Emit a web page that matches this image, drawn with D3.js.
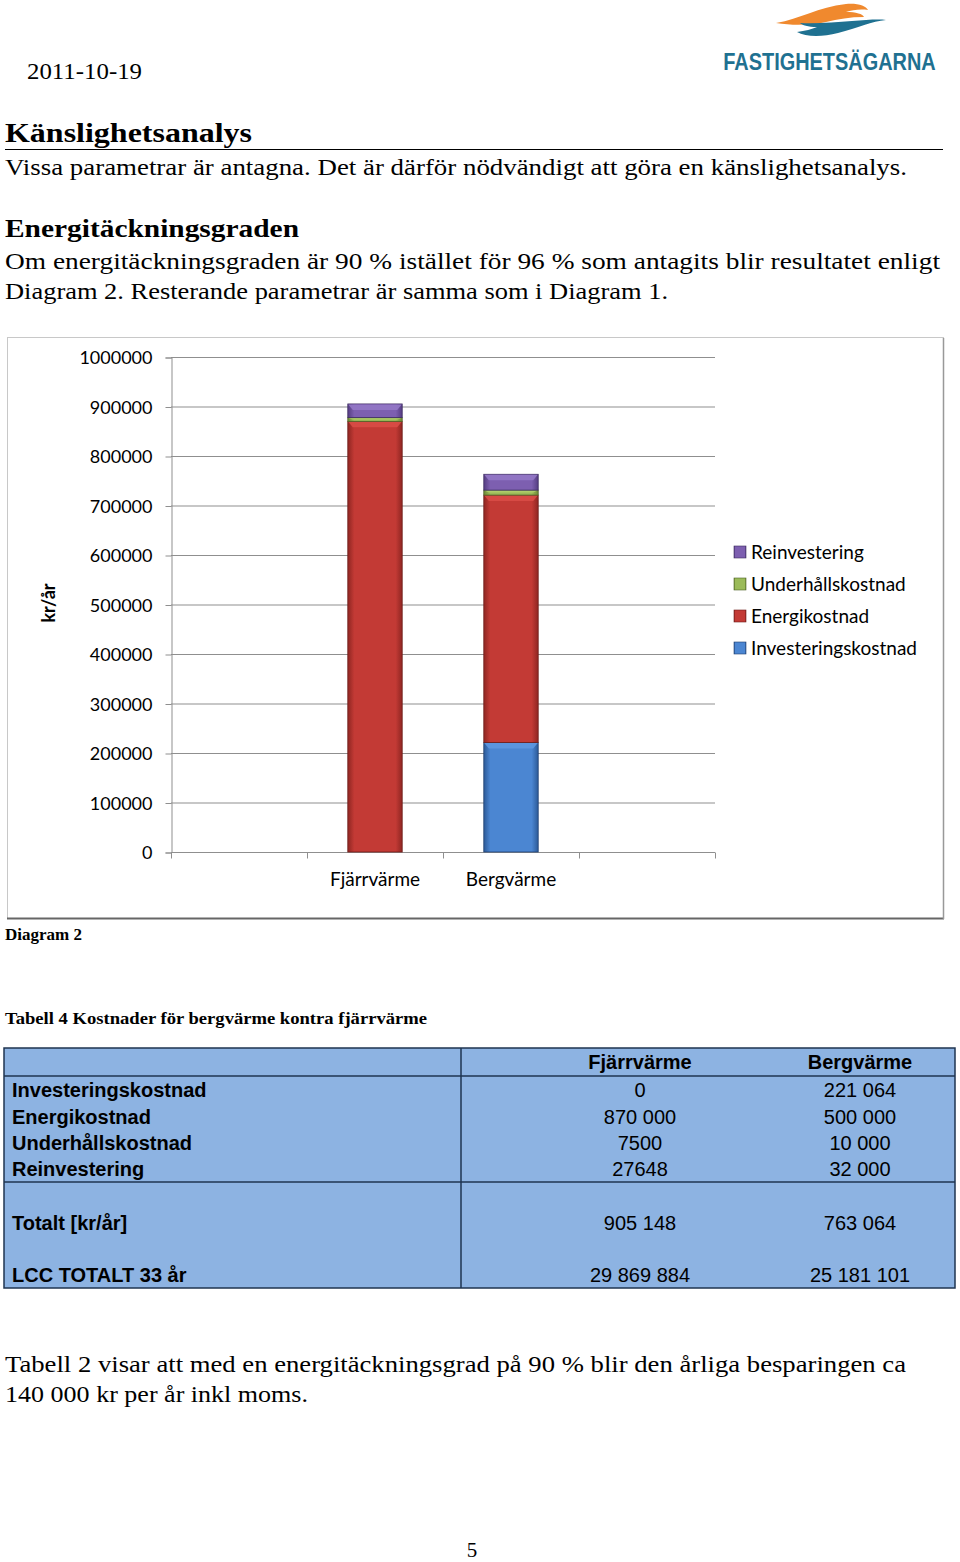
<!DOCTYPE html>
<html><head><meta charset="utf-8">
<script src="https://cdn.jsdelivr.net/npm/d3@7/dist/d3.min.js"></script>
<style>body{margin:0;background:#fff}svg{display:block}</style>
</head><body>
<script>
// ---- data ----
const categories = ["Fjärrvärme", "Bergvärme"];
const seriesNames = ["Investeringskostnad", "Energikostnad", "Underhållskostnad", "Reinvestering"];
const investering = [0, 221064];
const energi = [870000, 500000];
const underhall = [7500, 10000];
const reinvestering = [27648, 32000];
const yTicks = [0, 100000, 200000, 300000, 400000, 500000, 600000, 700000, 800000, 900000, 1000000];
const tableHeaders = ["", "Fjärrvärme", "Bergvärme"];
const tableRows = ["Investeringskostnad", "Energikostnad", "Underhållskostnad", "Reinvestering"];
const tableFjarr = ["0", "870 000", "7500", "27648"];
const tableBerg = ["221 064", "500 000", "10 000", "32 000"];
const totalLabels = ["Totalt [kr/år]", "LCC TOTALT 33 år"];
const totalFjarr = ["905 148", "29 869 884"];
const totalBerg = ["763 064", "25 181 101"];

const W = 960, H = 1562;
const svg = d3.select("body").append("svg").attr("width", W).attr("height", H);
const defs = svg.append("defs");

const serif = "'Liberation Serif', 'DejaVu Serif', serif";
const sans = "Lato, 'Open Sans', sans-serif";
const arial = "'Liberation Sans', Arial, sans-serif";

function txt(s, x, y, size, opts = {}) {
  const t = svg.append("text").attr("x", x).attr("y", y).text(s)
    .attr("font-family", opts.family || serif).attr("font-size", size)
    .attr("font-weight", opts.weight || "normal").attr("fill", opts.fill || "#000")
    .attr("text-anchor", opts.anchor || "start");
  if (opts.len) t.attr("textLength", opts.len).attr("lengthAdjust", "spacingAndGlyphs");
  return t;
}

// ---- header ----
txt("2011-10-19", 27, 79, 24, {len: 115});
// logo
svg.append("path").attr("fill", "#f0892e")
  .attr("d", "M776,23 C800,19 818,7 846,4 C858,3 866,6 868,10 C860,9 852,10 846,12 C856,12 863,14 864,17 C850,17 838,19 826,22 C812,25 794,26 776,23 Z");
svg.append("path").attr("fill", "#1f7191")
  .attr("d", "M886,20 C872,21 858,28 838,33 C822,37 806,37 797,32 C805,31 812,29 817,27 C808,27 802,25 800,23 C816,24 836,22 852,21 C866,20 878,19 886,20 Z");
txt("FASTIGHETSÄGARNA", 0, 0, 24, {family: arial, weight: "bold", fill: "#1f7191", anchor: "middle"})
  .attr("transform", "translate(829.5,70) scale(0.83,1)");

txt("Känslighetsanalys", 5, 142, 28, {weight: "bold", len: 247});
svg.append("line").attr("x1", 5).attr("x2", 943).attr("y1", 149.5).attr("y2", 149.5).attr("stroke", "#000").attr("stroke-width", 1);
txt("Vissa parametrar är antagna. Det är därför nödvändigt att göra en känslighetsanalys.", 5, 175, 23, {len: 902});
txt("Energitäckningsgraden", 5, 237, 26, {weight: "bold", len: 294});
txt("Om energitäckningsgraden är 90 % istället för 96 % som antagits blir resultatet enligt", 5, 269, 23, {len: 935});
txt("Diagram 2. Resterande parametrar är samma som i Diagram 1.", 5, 299, 23, {len: 663});

// ---- chart ----
svg.append("rect").attr("x", 7.5).attr("y", 337.5).attr("width", 936).attr("height", 581)
  .attr("fill", "#fff").attr("stroke", "#c8c8c8");
svg.append("line").attr("x1", 7).attr("x2", 944).attr("y1", 918.5).attr("y2", 918.5).attr("stroke", "#666").attr("stroke-width", 2);
svg.append("line").attr("x1", 943.5).attr("x2", 943.5).attr("y1", 338).attr("y2", 919).attr("stroke", "#999").attr("stroke-width", 1.5);

const x = d3.scaleBand().domain(["_a", ...categories, "_b"]).range([171, 715]);
const y = d3.scaleLinear().domain([0, 1000000]).range([852, 357]);

// gridlines
svg.append("g").selectAll("line").data(yTicks.filter(d => d > 0)).join("line")
  .attr("x1", 171).attr("x2", 715).attr("y1", d => y(d) + 0.5).attr("y2", d => y(d) + 0.5)
  .attr("stroke", "#8f8f8f").attr("stroke-width", 1);

const yAxis = svg.append("g").attr("transform", "translate(171.5,0.5)")
  .call(d3.axisLeft(y).tickValues(yTicks).tickSize(6).tickPadding(13).tickFormat(d3.format("d")));
yAxis.select(".domain").attr("stroke", "#8f8f8f");
yAxis.selectAll(".tick line").attr("stroke", "#8f8f8f");
yAxis.selectAll("text").attr("font-family", sans).attr("font-size", 18).attr("fill", "#000").attr("dy", "0.35em");

const xAxis = svg.append("g").attr("transform", "translate(0,852.5)")
  .call(d3.axisBottom(x).tickSize(0).tickPadding(20).tickFormat(d => d.startsWith("_") ? "" : d));
xAxis.select(".domain").attr("stroke", "#8f8f8f").attr("d", "M171,0H715");
xAxis.selectAll("text").attr("font-family", sans).attr("font-size", 19).attr("fill", "#000").attr("dy", "0.71em");
// category boundary ticks
const bounds = [...x.domain().map(d => x(d)), 715];
xAxis.append("g").selectAll("line").data(bounds).join("line")
  .attr("x1", d => Math.round(d) + 0.5).attr("x2", d => Math.round(d) + 0.5).attr("y1", 0).attr("y2", 6)
  .attr("stroke", "#8f8f8f");

txt("kr/år", 0, 0, 18, {family: sans, weight: "bold", anchor: "middle"})
  .attr("transform", "translate(55,603) rotate(-90)");

// gradients
const palette = [
  {name: "inv", edge: "#2c5a98", mid: "#4b86d2", light: "#5d97e0", stroke: "#1f3f70"},
  {name: "en", edge: "#8f2622", mid: "#c33a35", light: "#d94c46", stroke: "#6e1d1a"},
  {name: "un", edge: "#6f8a36", mid: "#9bbb59", light: "#b0d06c", stroke: "#4e6326"},
  {name: "re", edge: "#553d82", mid: "#7d5fb0", light: "#9478c6", stroke: "#3d2c60"}
];
palette.forEach(p => {
  const g = defs.append("linearGradient").attr("id", "g-" + p.name).attr("x1", 0).attr("x2", 1).attr("y1", 0).attr("y2", 0);
  g.append("stop").attr("offset", "0%").attr("stop-color", p.edge);
  g.append("stop").attr("offset", "12%").attr("stop-color", p.mid);
  g.append("stop").attr("offset", "50%").attr("stop-color", p.mid);
  g.append("stop").attr("offset", "88%").attr("stop-color", p.mid);
  g.append("stop").attr("offset", "100%").attr("stop-color", p.edge);
});

const seriesData = [investering, energi, underhall, reinvestering];
const rows = categories.map((c, i) => {
  const o = {cat: c};
  seriesNames.forEach((s, k) => o[s] = seriesData[k][i]);
  return o;
});
const stacked = d3.stack().keys(seriesNames)(rows);
const bw = x.bandwidth() * 0.4;

stacked.forEach((layer, k) => {
  const p = palette[k];
  const g = svg.append("g");
  layer.forEach(d => {
    if (d[1] - d[0] <= 0) return;
    const x0 = x(d.data.cat) + (x.bandwidth() - bw) / 2;
    const y0 = y(d[1]), h = y(d[0]) - y(d[1]);
    g.append("rect").attr("x", x0).attr("y", y0).attr("width", bw).attr("height", h)
      .attr("fill", `url(#g-${p.name})`).attr("stroke", p.stroke).attr("stroke-width", 0.8);
    // bevel top highlight
    const bh = Math.min(6, h / 2);
    g.append("path").attr("fill", p.light).attr("opacity", 0.9)
      .attr("d", `M${x0 + 0.5},${y0 + 0.5}H${x0 + bw - 0.5}L${x0 + bw - 5},${y0 + bh}H${x0 + 5}Z`);
  });
});

// legend
const legendItems = seriesNames.slice().reverse();
const lg = svg.append("g").selectAll("g").data(legendItems).join("g")
  .attr("transform", (d, i) => `translate(734,${552 + i * 32})`);
lg.append("rect").attr("x", 0).attr("y", -6).attr("width", 12).attr("height", 12)
  .attr("fill", d => `url(#g-${palette[seriesNames.indexOf(d)].name})`)
  .attr("stroke", d => palette[seriesNames.indexOf(d)].stroke).attr("stroke-width", 0.6);
lg.append("text").attr("x", 17).attr("dy", "0.35em").text(d => d)
  .attr("font-family", sans).attr("font-size", 19).attr("fill", "#000");

// captions
txt("Diagram 2", 5, 940, 17, {weight: "bold"});
txt("Tabell 4 Kostnader för bergvärme kontra fjärrvärme", 5, 1024, 17, {weight: "bold", len: 422});

// ---- table ----
const tb = svg.append("g");
tb.append("rect").attr("x", 4).attr("y", 1048).attr("width", 951).attr("height", 240)
  .attr("fill", "#8db3e2").attr("stroke", "#1f3550").attr("stroke-width", 1.5);
[1076, 1182].forEach(yy => tb.append("line").attr("x1", 4).attr("x2", 955).attr("y1", yy).attr("y2", yy)
  .attr("stroke", "#1f3550").attr("stroke-width", 1.5));
tb.append("line").attr("x1", 461).attr("x2", 461).attr("y1", 1048).attr("y2", 1288)
  .attr("stroke", "#1f3550").attr("stroke-width", 1.5);
const colX = [12, 640, 860];
const fs = 20;
tableHeaders.forEach((h, i) => { if (h) txt(h, colX[i], 1069, fs, {family: arial, weight: "bold", anchor: "middle"}); });
const rowY = [1097, 1124, 1150, 1176];
tableRows.forEach((r, i) => {
  txt(r, colX[0], rowY[i], fs, {family: arial, weight: "bold"});
  txt(tableFjarr[i], colX[1], rowY[i], fs, {family: arial, anchor: "middle"});
  txt(tableBerg[i], colX[2], rowY[i], fs, {family: arial, anchor: "middle"});
});
const totY = [1230, 1282];
totalLabels.forEach((r, i) => {
  txt(r, colX[0], totY[i], fs, {family: arial, weight: "bold"});
  txt(totalFjarr[i], colX[1], totY[i], fs, {family: arial, anchor: "middle"});
  txt(totalBerg[i], colX[2], totY[i], fs, {family: arial, anchor: "middle"});
});

// ---- footer text ----
txt("Tabell 2 visar att med en energitäckningsgrad på 90 % blir den årliga besparingen ca", 5, 1372, 23, {len: 901});
txt("140 000 kr per år inkl moms.", 5, 1402, 23, {len: 303});
txt("5", 472, 1557, 21, {anchor: "middle"});
</script>
</body></html>
